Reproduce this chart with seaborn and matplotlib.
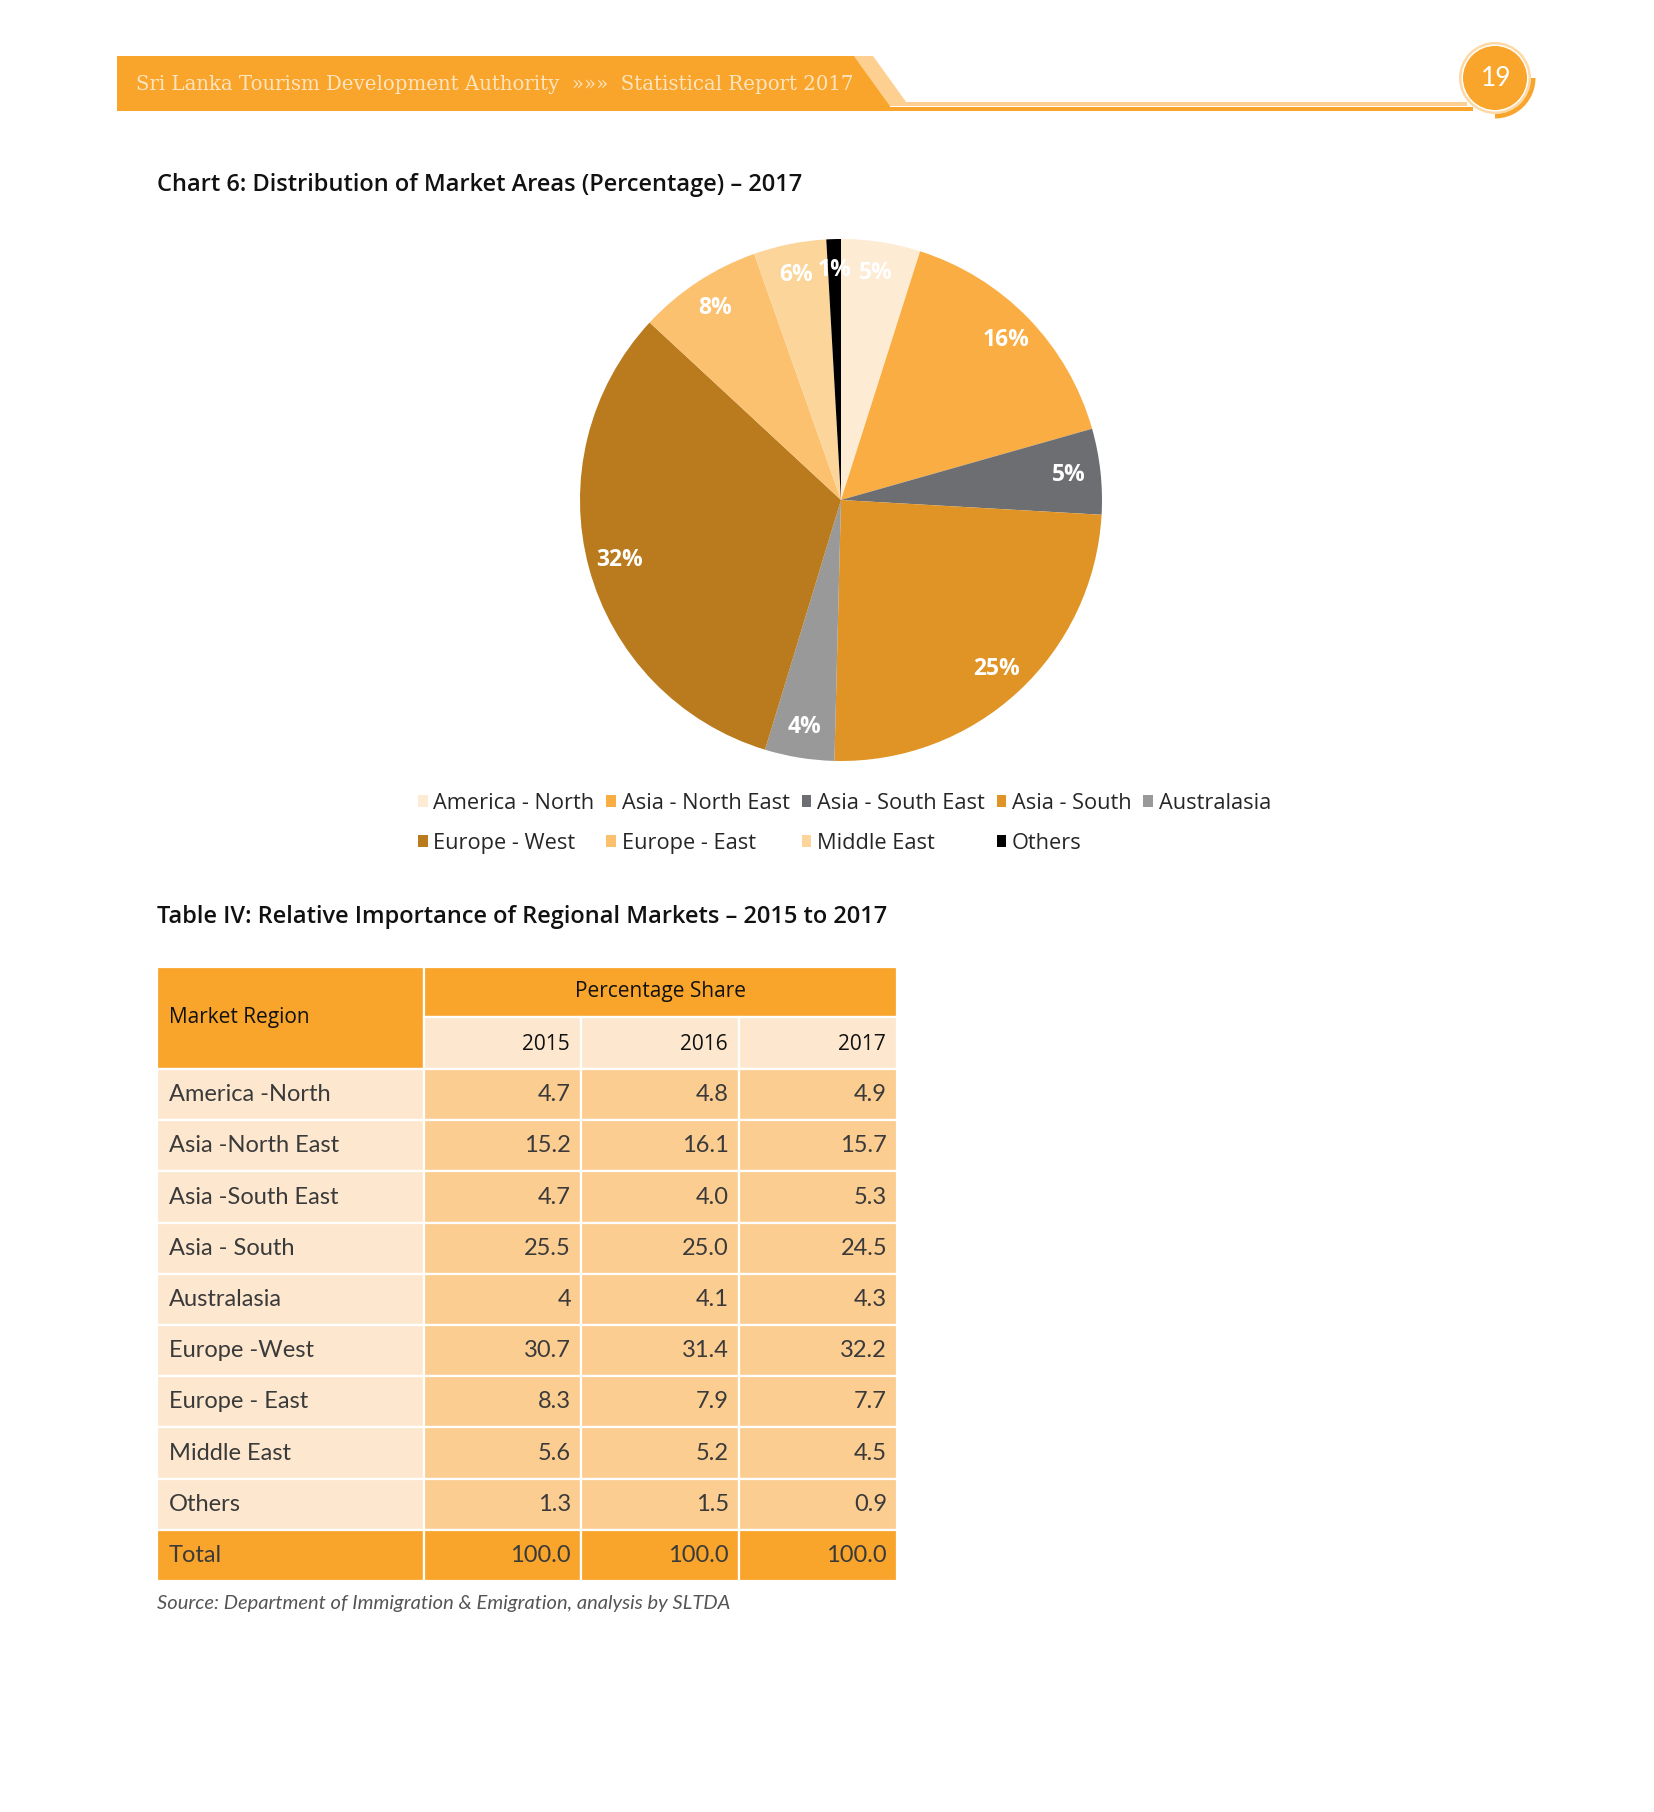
import numpy as np
import matplotlib
matplotlib.use("Agg")
import matplotlib.pyplot as plt
from matplotlib.patches import Rectangle, Polygon, Circle, Wedge
import seaborn as sns

# data
regions = ["America - North", "Asia - North East", "Asia - South East", "Asia - South",
           "Australasia", "Europe - West", "Europe - East", "Middle East", "Others"]
table_regions = ["America -North", "Asia -North East", "Asia -South East", "Asia - South",
                 "Australasia", "Europe -West", "Europe - East", "Middle East", "Others", "Total"]
share_2015 = ["4.7", "15.2", "4.7", "25.5", "4", "30.7", "8.3", "5.6", "1.3", "100.0"]
share_2016 = ["4.8", "16.1", "4.0", "25.0", "4.1", "31.4", "7.9", "5.2", "1.5", "100.0"]
share_2017 = ["4.9", "15.7", "5.3", "24.5", "4.3", "32.2", "7.7", "4.5", "0.9", "100.0"]
years = ["2015", "2016", "2017"]
pie_labels = ["5%", "16%", "5%", "25%", "4%", "32%", "8%", "6%", "1%"]

colors = ["#FDEBD4", "#F9AD42", "#6D6E71", "#E09426", "#999999",
          "#B97B1D", "#FBC16F", "#FCD59B", "#000000"]

ORANGE = "#F9A52B"
LIGHT = "#FDE8CF"
MID = "#FCCD90"

sns.set_theme(style="white")
plt.rcParams['font.family'] = ['Open Sans', 'DejaVu Sans']

W, H = 1654, 1812
fig = plt.figure(figsize=(W / 100, H / 100), dpi=100)
page = fig.add_axes([0, 0, 1, 1])
page.set_xlim(0, W)
page.set_ylim(H, 0)
page.axis("off")

# page header
page.add_patch(Polygon([(854, 56), (873, 56), (909, 106), (890, 106)], closed=True,
                       color="#FDCF91", lw=0))
page.add_patch(Rectangle((890, 101.5), 577, 4, color="#FDCF91", lw=0))
page.add_patch(Polygon([(117, 56), (854, 56), (890, 106), (890, 111), (117, 111)],
                       closed=True, color=ORANGE, lw=0))
page.add_patch(Rectangle((117, 106.5), 1356, 4.5, color=ORANGE, lw=0))
page.add_patch(Circle((1495, 78), 36, color="#FDD9A6", lw=0))
page.add_patch(Circle((1495, 78), 33.5, color="white", lw=0))
page.add_patch(Circle((1495, 78), 32, color=ORANGE, lw=0))
page.add_patch(Wedge((1495, 78), 40.5, 0, 90, width=4.5, color=ORANGE, lw=0))
page.text(1496, 79, "19", color="white", fontsize=19, ha="center", va="center",
          family="Lato")
page.text(136, 84, "Sri Lanka Tourism Development Authority  \u00bb\u00bb\u00bb  Statistical Report 2017",
          color="#FEE4C0", fontsize=14.2, ha="left", va="center", family="DejaVu Serif")

# titles
page.text(157, 185, "Chart 6: Distribution of Market Areas (Percentage) \u2013 2017",
          fontsize=17, fontweight="semibold", ha="left", va="center", color="#111111")
page.text(157, 917, "Table IV: Relative Importance of Regional Markets \u2013 2015 to 2017",
          fontsize=17, fontweight="semibold", ha="left", va="center", color="#111111")

# pie
cx, cy, r = 841, 500, 261
ax_pie = fig.add_axes([(cx - r) / W, 1 - (cy + r) / H, 2 * r / W, 2 * r / H])
pie_values = [float(v) for v in share_2017[:-1]]
lab_iter = iter(pie_labels)
wedges, _, autotexts = ax_pie.pie(pie_values, colors=colors, startangle=90, counterclock=False,
                                  autopct=lambda p: next(lab_iter), pctdistance=0.88,
                                  wedgeprops=dict(linewidth=0),
                                  textprops=dict(color="white", fontsize=16.5, fontweight="bold"))
ax_pie.set_xlim(-1, 1)
ax_pie.set_ylim(-1, 1)

order = [0, 5, 1, 6, 2, 7, 3, 8, 4]
page.legend([wedges[i] for i in order], [regions[i] for i in order],
            loc="upper left", bbox_to_anchor=(418, 793), bbox_transform=page.transData,
            ncol=5, frameon=False, fontsize=15.7, handlelength=0.45, handleheight=0.45,
            handletextpad=0.25, columnspacing=0.55, labelspacing=0.85, borderpad=0,
            borderaxespad=0)

# table
xe = [157, 424, 581, 739, 897]
top, hr1, hr2, rh = 967, 1017, 1069, 51.2
lw = 1.6
page.add_patch(Rectangle((xe[0], top), xe[1] - xe[0], hr2 - top, facecolor=ORANGE,
                         edgecolor="white", lw=lw))
page.add_patch(Rectangle((xe[1], top), xe[4] - xe[1], hr1 - top, facecolor=ORANGE,
                         edgecolor="white", lw=lw))
page.text(169, (top + hr2) / 2, "Market Region", fontsize=15, ha="left", va="center",
          color="#111111")
page.text((xe[1] + xe[4]) / 2, (top + hr1) / 2, "Percentage Share", fontsize=15,
          ha="center", va="center", color="#111111")
for j, yr in enumerate(years):
    page.add_patch(Rectangle((xe[j + 1], hr1), xe[j + 2] - xe[j + 1], hr2 - hr1,
                             facecolor=LIGHT, edgecolor="white", lw=lw))
    page.text(xe[j + 2] - 11, (hr1 + hr2) / 2 + 2, yr, fontsize=15, ha="right",
              va="center", color="#111111")

cols = [share_2015, share_2016, share_2017]
for i, name in enumerate(table_regions):
    y0 = hr2 + i * rh
    total = name == "Total"
    page.add_patch(Rectangle((xe[0], y0), xe[1] - xe[0], rh,
                             facecolor=ORANGE if total else LIGHT, edgecolor="white", lw=lw))
    page.text(169, y0 + rh / 2, name, fontsize=17, ha="left", va="center",
              color="#3a3a3a", family="Lato")
    for j in range(3):
        page.add_patch(Rectangle((xe[j + 1], y0), xe[j + 2] - xe[j + 1], rh,
                                 facecolor=ORANGE if total else MID, edgecolor="white", lw=lw))
        page.text(xe[j + 2] - 10, y0 + rh / 2, cols[j][i], fontsize=17, ha="right",
                  va="center", color="#3a3a3a", family="Lato")

page.text(157, 1603, "Source: Department of Immigration & Emigration, analysis by SLTDA",
          fontsize=14.5, ha="left", va="center", color="#555555", style="italic",
          family="Lato")

fig.savefig("out.png", dpi=100, facecolor="white")
